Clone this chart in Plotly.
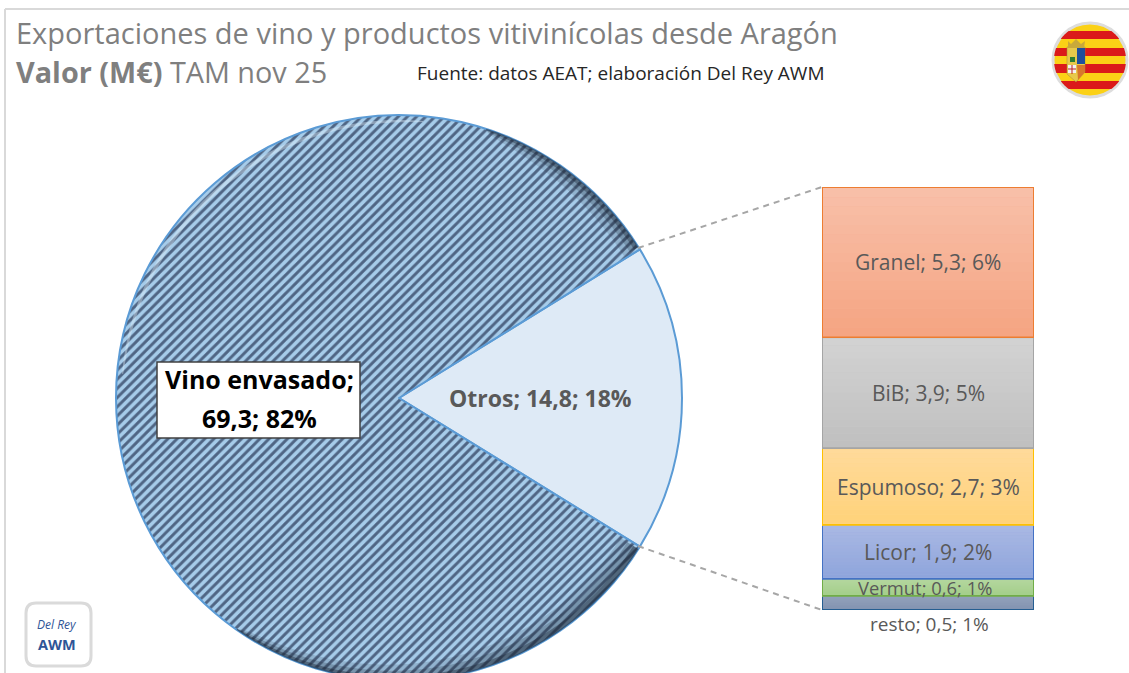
import numpy as np
import plotly.graph_objects as go

# ---- data
pie_names = ["Otros", "Vino envasado"]
pie_values = [14.8, 69.3]
pie_pct = [18, 82]
bar_names = ["resto", "Vermut", "Licor", "Espumoso", "BiB", "Granel"]
bar_values = [0.5, 0.6, 1.9, 2.7, 3.9, 5.3]
bar_pct = [1, 1, 2, 3, 5, 6]
title_1 = "Exportaciones de vino y productos vitivinícolas desde Aragón"
source = "Fuente: datos AEAT; elaboración Del Rey AWM"

# ---- styles
bar_top = [(0x93, 0xA2, 0xBC), (0xB5, 0xD7, 0xA0), (0xA9, 0xB8, 0xE3), (0xFF, 0xDA, 0x9A), (0xD2, 0xD2, 0xD2), (0xF8, 0xBF, 0xA8)]
bar_bot = [(0x82, 0x93, 0xB0), (0xA4, 0xCE, 0x8A), (0x8F, 0xA5, 0xDC), (0xFF, 0xD2, 0x7A), (0xC0, 0xC0, 0xC0), (0xF5, 0xA5, 0x83)]
bar_lines = ["#255E91", "#70AD47", "#4472C4", "#FFC000", "#A5A5A5", "#ED7D31"]
bar_sizes = [19, 18.4, 21, 21, 21, 21]

W, H = 1129, 690
FONT = "Open Sans"
CX, CY, R = 399, 398, 283


def lab(n, v, p):
    return f"{n}; {str(v).replace('.', ',')}; {p}%"


def rgb(c):
    return "rgb(%d,%d,%d)" % tuple(int(round(x)) for x in c)


fig = go.Figure()

half = 360 * pie_values[0] / sum(pie_values) / 2
fig.add_trace(go.Pie(
    labels=pie_names, values=pie_values, sort=False, direction="clockwise",
    rotation=90 - half, textinfo="none", hoverinfo="skip", showlegend=False,
    domain=dict(x=[(CX - R) / W, (CX + R) / W], y=[1 - (CY + R) / H, 1 - (CY - R) / H]),
    marker=dict(
        colors=["#DEEAF6", "#A6CCEA"],
        line=dict(color="#5B9BD5", width=2),
        pattern=dict(shape=["", "/"], fgcolor="#4F6584", bgcolor="#A6CCEA",
                     size=6.5, solidity=0.45, fillmode="replace"),
    ),
))

for n, v, top, bot, line in zip(bar_names, bar_values, bar_top, bar_bot, bar_lines):
    fig.add_trace(go.Bar(
        x=["Otros"], y=[v], name=n, xaxis="x", yaxis="y", showlegend=False, hoverinfo="skip",
        marker=dict(color=rgb(np.mean([top, bot], axis=0)), line=dict(color=line, width=2)),
    ))

# helper pixel-space axes covering the whole page
PX = dict(xref="x2", yref="y2")


def chord_stripe(y0, y1, cx, cy, r):
    pts = []
    ys = np.linspace(y0, y1, 12)
    for y in ys:
        pts.append((cx + np.sqrt(max(r**2 - (y - cy)**2, 0)), y))
    for y in ys[::-1]:
        pts.append((cx - np.sqrt(max(r**2 - (y - cy)**2, 0)), y))
    return "M" + "L".join(f"{a:.1f},{b:.1f}" for a, b in pts) + "Z"


def poly(pts):
    return "M" + "L".join(f"{a:.1f},{b:.1f}" for a, b in pts) + "Z"


def crescent(a0, a1, wmax, offset=0.0, env=(0.0, 1.0)):
    # band inside the rim, angles clockwise from east on screen
    t = np.radians(np.linspace(a0, a1, 70))
    w = wmax * np.sin(np.linspace(env[0], env[1], 70) * np.pi) ** 0.5 + 1
    outer = [(CX + (R - offset) * np.cos(x), CY + (R - offset) * np.sin(x)) for x in t]
    inner = [(CX + (R - offset - d) * np.cos(x), CY + (R - offset - d) * np.sin(x)) for x, d in zip(t, w)]
    return poly(outer + inner[::-1])


shapes = []
# frame
shapes.append(dict(type="line", x0=5, x1=1129, y0=9, y1=9, line=dict(color="#D9D9D9", width=2), **PX))
shapes.append(dict(type="line", x0=5, x1=5, y0=9, y1=H, line=dict(color="#D9D9D9", width=2), **PX))
# connectors
shapes.append(dict(type="line", x0=638, y0=248, x1=822, y1=187, line=dict(color="#A6A6A6", width=2, dash="6px,5px"), **PX))
shapes.append(dict(type="line", x0=638, y0=546, x1=822, y1=610, line=dict(color="#A6A6A6", width=2, dash="6px,5px"), **PX))
# pie bevel: dark lower right, light upper left
for wid, alpha in [(20, 0.14), (12, 0.22), (5, 0.4)]:
    shapes.append(dict(type="path", path=crescent(half + 0.6, 125, wid, env=(0.45, 1.0)), fillcolor=f"rgba(25,35,50,{alpha})", line_width=0, **PX))
for wid, alpha in [(16, 0.14), (9, 0.22), (4, 0.35)]:
    shapes.append(dict(type="path", path=crescent(-72, -half - 0.6, wid, env=(0.0, 0.55)), fillcolor=f"rgba(25,35,50,{alpha})", line_width=0, **PX))
shapes.append(dict(type="path", path=crescent(185, 275, 3, offset=5), fillcolor="rgba(225,240,250,0.4)", line_width=0, **PX))
# label box
shapes.append(dict(type="rect", x0=157, x1=360, y0=362, y1=438, fillcolor="white", line=dict(color="#404040", width=1.5), **PX))
# logo with rounded corners
lx0, lx1, ly0, ly1, lr = 26, 91, 603, 666, 10
shapes.append(dict(type="path",
                   path=(f"M{lx0 + lr},{ly0}L{lx1 - lr},{ly0}Q{lx1},{ly0} {lx1},{ly0 + lr}L{lx1},{ly1 - lr}"
                         f"Q{lx1},{ly1} {lx1 - lr},{ly1}L{lx0 + lr},{ly1}Q{lx0},{ly1} {lx0},{ly1 - lr}"
                         f"L{lx0},{ly0 + lr}Q{lx0},{ly0} {lx0 + lr},{ly0}Z"),
                   fillcolor="white", line=dict(color="#DADADA", width=3), **PX))
# flag
fx, fy, fr = 1090, 60, 37
shapes.append(dict(type="circle", x0=fx - fr, x1=fx + fr, y0=fy - fr, y1=fy + fr, fillcolor="#FBD116", line=dict(color="#DDDDDD", width=3), **PX))
for y0, y1 in [(31, 39), (48, 56), (64, 73), (81, 89)]:
    shapes.append(dict(type="path", path=chord_stripe(y0, y1, fx, fy, fr - 1), fillcolor="#DB1A1A", line_width=0, **PX))
shapes.append(dict(type="path", path=poly([(1067, 47), (1085, 47), (1085, 72), (1076, 82), (1067, 74)]), fillcolor="#E8C94A", line=dict(color="#A08A3C", width=0.5), **PX))
shapes.append(dict(type="path", path=poly([(1068, 41), (1071, 44), (1076, 39), (1081, 44), (1085, 41), (1084, 48), (1068, 48)]), fillcolor="#C9A93A", line_width=0, **PX))
shapes.append(dict(type="rect", x0=1077, x1=1085, y0=48, y1=64, fillcolor="#1F4E9C", line_width=0, **PX))
shapes.append(dict(type="rect", x0=1070, x1=1075, y0=57, y1=62, fillcolor="#2E7D32", line_width=0, **PX))
shapes.append(dict(type="path", path=poly([(1077, 65), (1085, 65), (1085, 72), (1078, 80)]), fillcolor="#D9772B", line_width=0, **PX))
shapes.append(dict(type="rect", x0=1068, x1=1076, y0=65, y1=73, fillcolor="#F2F2F2", line_width=0, **PX))
shapes.append(dict(type="rect", x0=1071.5, x1=1072.5, y0=65, y1=74, fillcolor="#C02020", line_width=0, **PX))
shapes.append(dict(type="rect", x0=1068, x1=1076, y0=68.5, y1=69.5, fillcolor="#C02020", line_width=0, **PX))

# soft vertical gradient over each bar (inset by the border width)
cum = np.cumsum([0] + bar_values)
unit_px = (610 - 187) / cum[-1]
N = 16
for i in range(len(bar_values)):
    y_lo = cum[i] + 1 / unit_px
    y_hi = cum[i + 1] - 1 / unit_px
    edges = np.linspace(y_hi, y_lo, N + 1)
    for k in range(N):
        f = k / (N - 1)
        c = [t + (b - t) * f for t, b in zip(bar_top[i], bar_bot[i])]
        shapes.append(dict(type="rect", xref="x2", yref="y", x0=823, x1=1033, y0=float(edges[k]), y1=float(edges[k + 1]),
                           fillcolor=rgb(c), line_width=0))

ann = []


def text(x, y, s, size, color="#595959", anchor="center", yanchor="middle"):
    ann.append(dict(x=x, y=y, text=s, showarrow=False, xanchor=anchor, yanchor=yanchor,
                    font=dict(size=size, color=color, family=FONT), **PX))


text(14, 32, title_1, 29, "#7F7F7F", "left")
text(14, 71, "<b>Valor (M€)</b> TAM nov 25", 28.8, "#7F7F7F", "left")
text(415, 73, source, 19, "#262626", "left")

text(259, 379, f"<b>{pie_names[1]};</b>", 25, "#000000")
text(259, 418, f"<b>{str(pie_values[1]).replace('.', ',')}; {pie_pct[1]}%</b>", 25, "#000000")
text(540, 398, "<b>" + lab(pie_names[0], pie_values[0], pie_pct[0]) + "</b>", 23)

text(57, 624, "<i>Del Rey</i>", 12, "#2F5597")
text(57, 644, "<b>AWM</b>", 14.5, "#2F5597")

# bar labels through the data axes
for i, (n, v, p) in enumerate(zip(bar_names, bar_values, bar_pct)):
    d = dict(x="Otros", xref="x", yref="y", text=lab(n, v, p), showarrow=False,
             font=dict(size=bar_sizes[i], color="#595959", family=FONT))
    if n == "resto":
        d.update(y=0, yanchor="top", yshift=1, xshift=1)
    elif n == "Vermut":
        d.update(y=float(cum[i] + cum[i + 1]) / 2, xshift=-3)
    else:
        d.update(y=float(cum[i] + cum[i + 1]) / 2)
    ann.append(d)

fig.update_layout(
    width=W, height=H, autosize=False, margin=dict(l=0, r=0, t=0, b=0),
    paper_bgcolor="white", plot_bgcolor="rgba(0,0,0,0)",
    barmode="stack", bargap=0,
    xaxis=dict(domain=[822 / W, 1034 / W], visible=False, type="category", fixedrange=True, anchor="y"),
    yaxis=dict(domain=[1 - 610 / H, 1 - 187 / H], range=[0, float(cum[-1])], visible=False, fixedrange=True, anchor="x"),
    xaxis2=dict(domain=[0, 1], range=[0, W], visible=False, anchor="y2", fixedrange=True),
    yaxis2=dict(domain=[0, 1], range=[H, 0], visible=False, anchor="x2", fixedrange=True),
    shapes=shapes, annotations=ann,
)
# invisible trace to activate the pixel axes
fig.add_trace(go.Scatter(x=[0], y=[0], xaxis="x2", yaxis="y2", mode="markers", marker=dict(opacity=0),
                         hoverinfo="skip", showlegend=False))

fig.write_html("out.html", config=dict(displayModeBar=False),
               post_script="document.body.style.margin='0';document.body.style.overflow='hidden';document.documentElement.style.overflow='hidden';")
